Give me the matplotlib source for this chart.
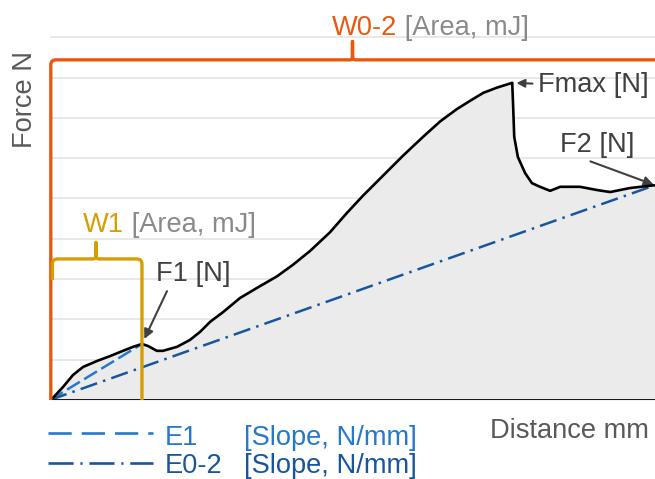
import matplotlib
matplotlib.use("Agg")
import matplotlib.pyplot as plt
from matplotlib.path import Path
from matplotlib.patches import PathPatch

# ---------------- data ----------------
distance = [0.00, 0.07, 0.32, 0.57, 0.82, 1.17, 1.49, 1.81, 2.06, 2.28,
            2.43, 2.65, 2.80, 3.15, 3.47, 3.72, 3.97, 4.29, 4.71, 5.13,
            5.63, 6.03, 6.45, 6.94, 7.36, 7.76, 8.26, 8.75, 9.25, 9.67,
            10.09, 10.41, 10.74, 11.08, 11.46, 11.48, 11.51, 11.60, 11.78,
            11.95, 12.15, 12.40, 12.65, 13.14, 13.56, 13.89, 14.38, 15.00]
force = [0.00, 0.05, 0.32, 0.62, 0.82, 0.97, 1.09, 1.22, 1.32, 1.39,
         1.34, 1.22, 1.22, 1.32, 1.49, 1.69, 1.94, 2.18, 2.53, 2.78,
         3.07, 3.36, 3.70, 4.16, 4.64, 5.07, 5.57, 6.06, 6.53, 6.91,
         7.22, 7.42, 7.62, 7.75, 7.87, 7.37, 6.53, 6.03, 5.63,
         5.38, 5.29, 5.19, 5.29, 5.29, 5.21, 5.16, 5.26, 5.33]
f1_index = 9                     # local maximum F1
grid_levels = [1, 2, 3, 4, 5, 6, 7, 8, 9]

label_w02 = "W0-2"
label_w1 = "W1"
label_area = " [Area, mJ]"
label_f1 = "F1 [N]"
label_f2 = "F2 [N]"
label_fmax = "Fmax [N]"
legend_names = ["E1", "E0-2"]
legend_units = ["[Slope, N/mm]", "[Slope, N/mm]"]
x_label = "Distance mm"
y_label = "Force N"

# ---------------- style ----------------
plt.rcParams["font.family"] = ["Liberation Sans", "DejaVu Sans"]
FS = 19.6
ORANGE = "#e8590f"
GOLD = "#d69e00"
BLUE1 = "#2479cf"
BLUE2 = "#17569f"
GREYTXT = "#8a8a8a"
DARK = "#404040"
AXTXT = "#595959"

fig = plt.figure(figsize=(6.55, 4.79), dpi=100)
ax = fig.add_axes([50 / 655, 79 / 479, 605 / 655, 400 / 479])
ax.set_xlim(0, 15)
ax.set_ylim(0, 9.925)
ax.axis("off")

# grid
for g in grid_levels:
    ax.axhline(g, color="#e6e6e6", lw=1.3, zorder=1)

# area fill and curve
ax.fill_between(distance, force, 0, color="#ebebeb", lw=0, zorder=2)
ax.plot(distance, force, color="black", lw=1.9, zorder=5,
        solid_joinstyle="round", solid_capstyle="round")
ax.axhline(0, color="black", lw=2.0, zorder=6)

x0, y0 = distance[0], force[0]
xf1, yf1 = distance[f1_index], force[f1_index]
xf2, yf2 = distance[-1], force[-1]
imax = max(range(len(force)), key=lambda i: force[i])
xmax_, ymax_ = distance[imax], force[imax]

# slopes
ax.plot([x0, xf1], [y0, yf1], color=BLUE1, lw=1.8, dashes=(6, 2), zorder=4)
ax.plot([x0, xf2], [y0, yf2], color=BLUE2, lw=1.8, dashes=(7, 2.5, 1, 2.5), zorder=4)


def brace(xa, xb, xm, y, tip, r, s, left_bottom, right_bottom, color, lw, z):
    verts = [(xa, left_bottom), (xa, y - r), (xa, y), (xa + r, y),
             (xm - s, y), (xm, y), (xm, y + s), (xm, y + tip), (xm, y + s),
             (xm, y), (xm + s, y)]
    codes = [Path.MOVETO, Path.LINETO, Path.CURVE3, Path.CURVE3,
             Path.LINETO, Path.CURVE3, Path.CURVE3, Path.LINETO, Path.LINETO,
             Path.CURVE3, Path.CURVE3]
    if right_bottom is None:
        verts += [(xb, y)]
        codes += [Path.LINETO]
    else:
        verts += [(xb - r, y), (xb, y), (xb, y - r), (xb, right_bottom)]
        codes += [Path.LINETO, Path.CURVE3, Path.CURVE3, Path.LINETO]
    p = PathPatch(Path(verts, codes), fill=False, edgecolor=color, lw=lw,
                  joinstyle="round", capstyle="butt", zorder=z, clip_on=False)
    ax.add_patch(p)


# W0-2 bracket (whole range)
brace(x0 + 0.02, 15.3, (x0 + xf2) / 2, 8.44, 0.45, 0.13, 0.08, 0.0, None,
      ORANGE, 2.4, 7)
# W1 bracket (up to F1)
brace(x0 + 0.06, xf1, (x0 + xf1) / 2, 3.50, 0.40, 0.13, 0.08, 2.98, 0.0,
      GOLD, 2.4, 7)

# area labels
t = ax.text(6.99, 9.06, label_w02, color=ORANGE, fontsize=FS, va="baseline", ha="left")
ax.annotate(label_area, xy=(1, 0), xycoords=t, va="bottom", ha="left",
            color=GREYTXT, fontsize=FS)
t = ax.text(0.82, 4.17, label_w1, color=GOLD, fontsize=FS, va="baseline", ha="left")
ax.annotate(label_area, xy=(1, 0), xycoords=t, va="bottom", ha="left",
            color=GREYTXT, fontsize=FS)

# force annotations
ax.annotate(label_fmax, xy=(xmax_, ymax_), xytext=(12.10, 7.64),
            textcoords="data", va="baseline", ha="left", color=DARK, fontsize=FS,
            arrowprops=dict(arrowstyle="-|>", color=DARK, lw=1.5, mutation_scale=12,
                            shrinkA=2, shrinkB=3, relpos=(0, 0.55)))
ax.annotate(label_f2, xy=(xf2, yf2), xytext=(12.65, 6.15),
            textcoords="data", va="baseline", ha="left", color=DARK, fontsize=FS,
            annotation_clip=False,
            arrowprops=dict(arrowstyle="-|>", color=DARK, lw=1.5, mutation_scale=14,
                            shrinkA=1, shrinkB=1, relpos=(0.24, 0.05)))
ax.annotate(label_f1, xy=(xf1, yf1), xytext=(2.63, 2.95),
            textcoords="data", va="baseline", ha="left", color=DARK, fontsize=FS,
            arrowprops=dict(arrowstyle="-|>", color=DARK, lw=1.5, mutation_scale=14,
                            shrinkA=1, shrinkB=4, relpos=(0.18, 0.05)))

# axis labels
ax.text(0.727, -0.095, x_label, transform=ax.transAxes, color=AXTXT, fontsize=FS,
        va="baseline", ha="left")
fig.text(25 / 655, 1 - 100 / 479, y_label, rotation=90, color=AXTXT, fontsize=FS,
         va="center", ha="center")

# manual legend
leg_colors = [BLUE1, BLUE2]
leg_dashes = [(8.8, 3.8), (9.5, 2.6, 0.8, 2.6)]
leg_line_y = [-0.0825, -0.158]
leg_text_y = [-0.113, -0.183]
for name, unit, c, d, ly, ty in zip(legend_names, legend_units, leg_colors,
                                    leg_dashes, leg_line_y, leg_text_y):
    ax.plot([-0.003, 0.170], [ly, ly], transform=ax.transAxes, color=c, lw=1.9,
            dashes=d, clip_on=False)
    ax.text(0.190, ty, name, transform=ax.transAxes, color=c, fontsize=FS,
            va="baseline", ha="left")
    ax.text(0.321, ty, unit, transform=ax.transAxes, color=c, fontsize=FS,
            va="baseline", ha="left")

fig.savefig("out.png", dpi=100)
